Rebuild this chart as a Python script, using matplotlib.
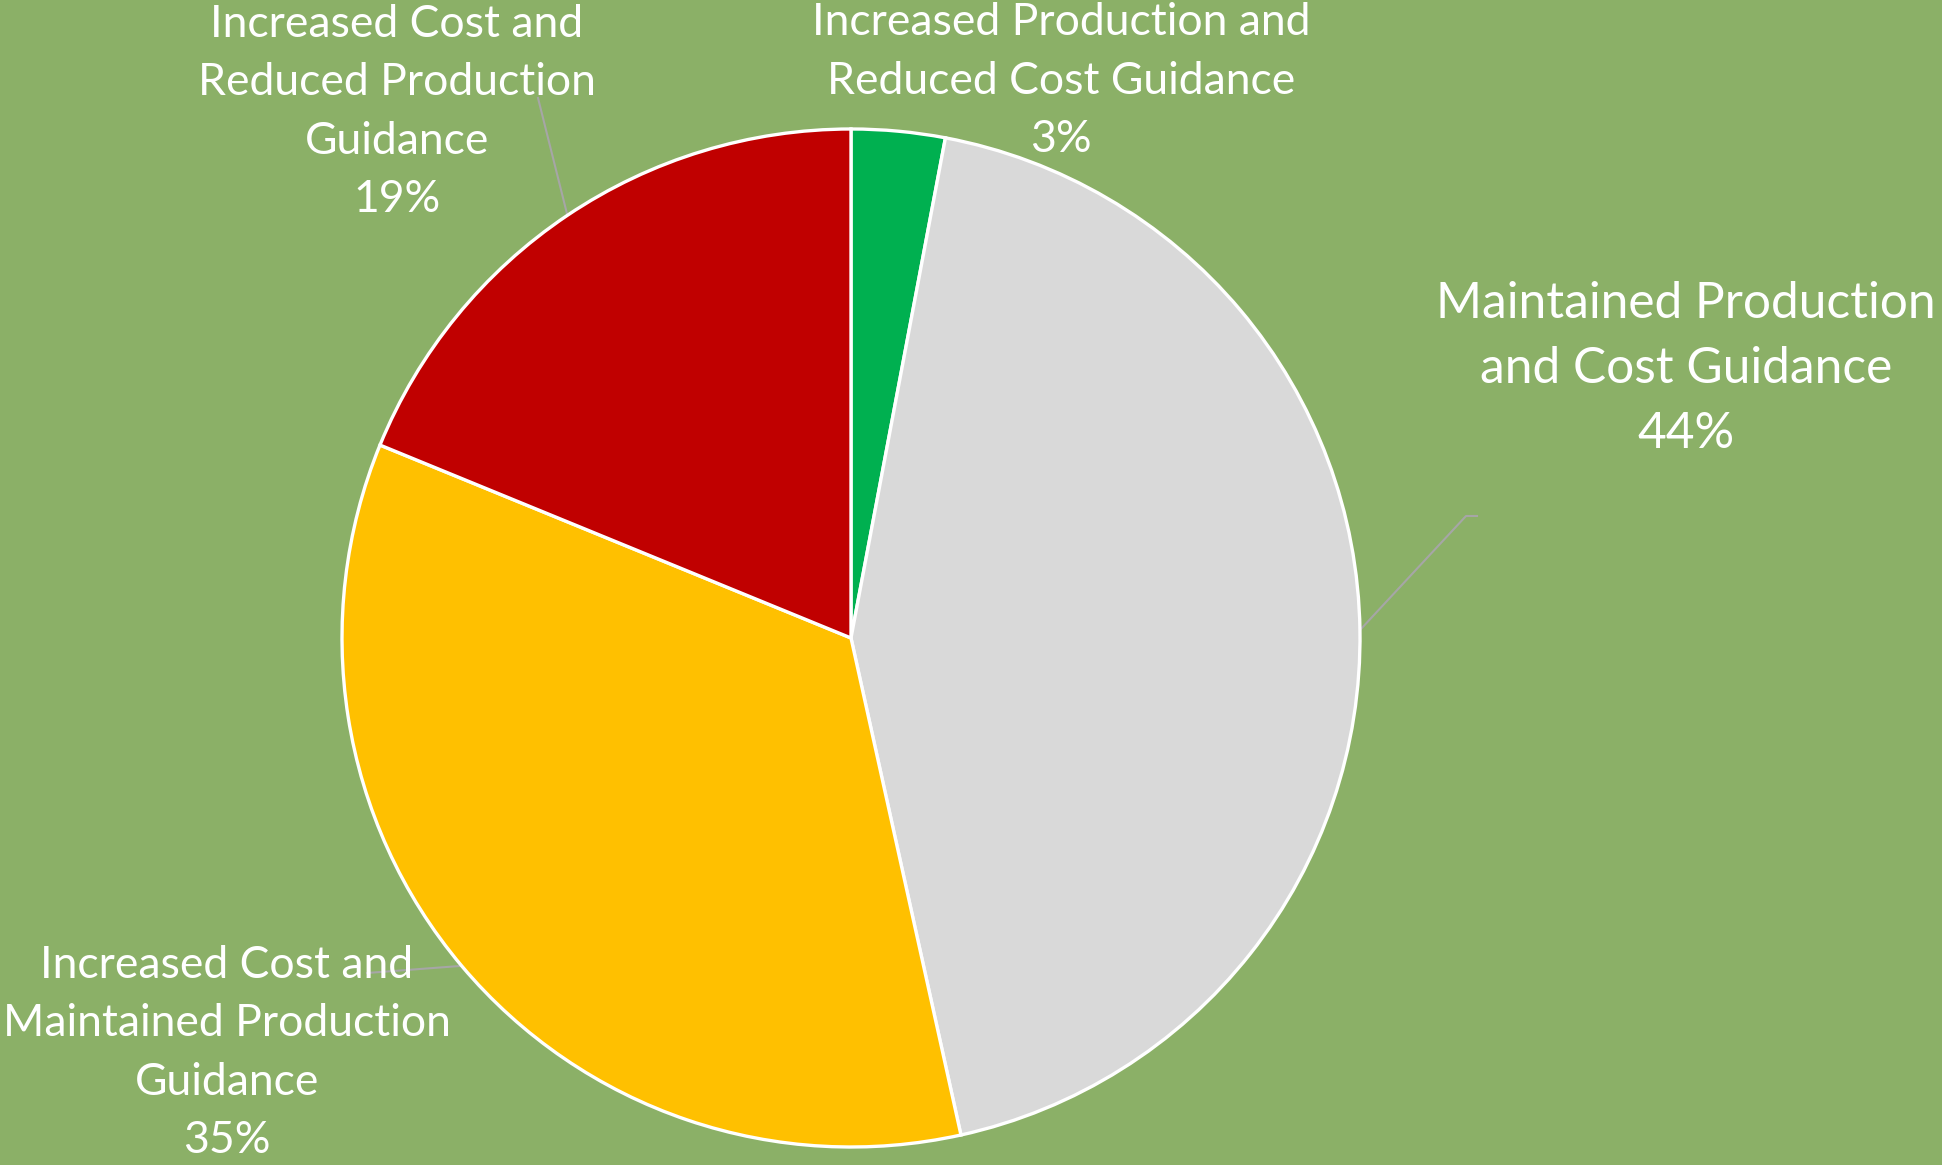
import numpy as np
import matplotlib.pyplot as plt

categories = [
    'Increased Production and\nReduced Cost Guidance',
    'Maintained Production\nand Cost Guidance',
    'Increased Cost and\nMaintained Production\nGuidance',
    'Increased Cost and\nReduced Production\nGuidance',
]
shares = [3, 44, 35, 19]
colors = ['#00B050', '#D9D9D9', '#FFC000', '#C00000']

bg = '#8BB067'
W, H = 1942, 1165
center = (851, 527)
radius = 509

# label anchor (centre of text block), leader elbow, font size
label_pos = [(1061, 1165 - 81), (1686, 1165 - 369), (227, 1165 - 1053), (397, 1165 - 112)]
leaders = [None, [(1466, 1165 - 516), (1477, 1165 - 516)], [(367, 1165 - 973)], [(538, 1165 - 98)]]
label_size = [32, 35.7, 32, 32]

plt.rcParams['font.family'] = ['Lato', 'DejaVu Sans']

fig = plt.figure(figsize=(W / 100, H / 100), dpi=100)
fig.patch.set_facecolor(bg)
ax = fig.add_axes([0, 0, 1, 1])
ax.set_facecolor(bg)

wedges, _ = ax.pie(shares, colors=colors, startangle=90, counterclock=False,
                   center=center, radius=radius,
                   wedgeprops=dict(edgecolor='white', linewidth=2.4))

for w, cat, v, pos, lead, fs in zip(wedges, categories, shares, label_pos, leaders, label_size):
    ax.text(pos[0], pos[1], f'{cat}\n{v}%', ha='center', va='center',
            multialignment='center', color='white', fontsize=fs, linespacing=1.52)
    if lead:
        mid = np.deg2rad((w.theta1 + w.theta2) / 2)
        start = (center[0] + radius * np.cos(mid), center[1] + radius * np.sin(mid))
        xs = [start[0]] + [p[0] for p in lead]
        ys = [start[1]] + [p[1] for p in lead]
        ax.plot(xs, ys, color='#A6A6A6', lw=1.5, zorder=0.5)

ax.set_xlim(0, W)
ax.set_ylim(0, H)
ax.set_aspect('equal')
ax.axis('off')

fig.savefig('out.png', dpi=100, facecolor=bg)
